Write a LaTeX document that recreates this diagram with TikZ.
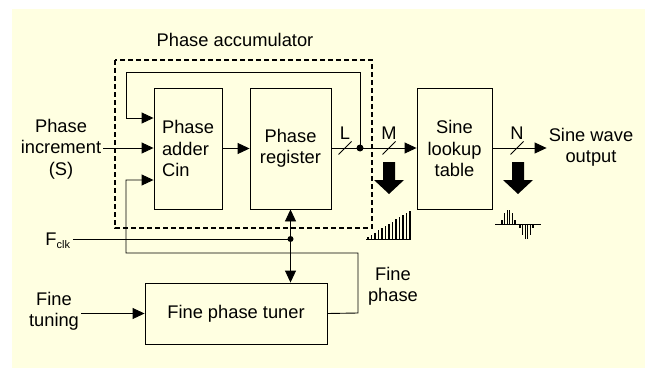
\documentclass[tikz,border=0pt]{standalone}
\usepackage{fontspec}
\setmainfont{Liberation Sans}
\usetikzlibrary{arrows.meta}

\definecolor{paper}{RGB}{255,255,225}

\newcommand*{\wirey}{148}
\newcommand*{\clky}{239}

\tikzset{
	blk/.style={draw,line width=0.9pt,minimum height=121pt},
	lbl/.style={align=center,inner sep=2pt},
	wire/.style={line width=0.9pt},
	sig/.style={wire,-{Triangle[length=12pt,width=11pt]}},
	bus/.style={line width=0.9pt}
}

\begin{document}
\begin{tikzpicture}[x=1pt,y=-1pt,font=\fontsize{18.3pt}{21.3pt}\selectfont]

	\useasboundingbox (0,0) rectangle (645,369);
	\fill[paper] (12,9) rectangle (645,368);

	% blocks
	\node[blk,minimum width=68pt,align=left] (adder) at (188,148.5) {Phase\\adder\\Cin};
	\node[blk,minimum width=81pt,align=center] (reg) at (290.5,148.5) {Phase\\register};
	\node[blk,minimum width=75pt,align=center] (lut) at (454.5,148.5) {Sine\\lookup\\table};
	\node[draw,line width=0.9pt,minimum width=182pt,minimum height=61pt] (tuner) at (236,313.5) {Fine phase tuner};

	% phase accumulator
	\draw[line width=1.6pt,dash pattern=on 5pt off 3pt] (115,60) rectangle (372,228);
	\node (acc) at (235,40) {Phase accumulator};

	% texts
	\node[lbl] (inc) at (61,149) {Phase\\increment\\(S)};
	\node[lbl] (out) at (591,147) {Sine wave\\output};
	\node[lbl] (fclk) at (58,241) {F\textsubscript{\fontsize{11pt}{12pt}\selectfont clk}};
	\node[lbl] (ftune) at (54,311) {Fine\\tuning};
	\node[lbl] (fphase) at (393,286) {Fine\\phase};
	\node (wl) at (345,133) {L};
	\node (wm) at (389,133) {M};
	\node (wn) at (517,133) {N};

	% wires
	\coordinate (tap) at (360,\wirey);
	\coordinate (fbtop) at (126,72);
	\coordinate (fbin) at (126,118);
	\coordinate (cinbot) at (126,253);
	\coordinate (cinin) at (126,180);
	\coordinate (fpright) at (358,313);
	\coordinate (clk) at (reg.south |- 0,\clky);

	\draw[sig] (inc.east |- 0,\wirey) -- (adder.west |- 0,\wirey);
	\draw[sig] (adder.east) -- (reg.west);
	\draw[sig] (reg.east |- tap) -- (lut.west |- tap);
	\draw[sig] (lut.east |- tap) -- (out.west |- tap);
	\draw[sig] (tap) -- (tap |- fbtop) -- (fbtop) -- (fbin) -- (adder.west |- fbin);
	\draw[sig] (tuner.east) -- (fpright) -- (fpright |- cinbot) -- (cinbot) -- (cinin) -- (adder.west |- cinin);
	\draw[wire] (fclk.east |- clk) -- (clk);
	\draw[sig] (clk) -- (reg.south);
	\draw[sig] (clk) -- (reg.south |- tuner.north);
	\draw[sig] (ftune.east |- tuner.west) -- (tuner.west);
	\fill (tap) circle (3.5);
	\fill (clk) circle (3);

	% bus widths
	\foreach \xa in {345,389,517}
		\draw[bus] (\xa-6.5,\wirey+6.5) -- (\xa+6.5,\wirey-6.5);

	% big arrows
	\foreach \xa in {389,518}
		\fill (\xa-6,162) -- (\xa-6,180) -- (\xa-15,180) -- (\xa,194) -- (\xa+15,180) -- (\xa+6,180) -- (\xa+6,162) -- cycle;

	% ramp
	\draw[line width=0.8pt] (366,239) -- (411,239);
	\foreach \i in {0,...,12}
		\draw[line width=1.1pt] (368+3.5*\i,239) -- ++(0,{-(2+2.2*\i)});

	% sine
	\draw[line width=0.8pt] (495,224) -- (541,224);
	\foreach \i in {0,...,5} {
		\draw[line width=1.1pt] (502+2.6*\i,224) -- ++(0,{-15*sin(180*(\i+0.5)/6)});
		\draw[line width=1.1pt] (520+2.6*\i,224) -- ++(0,{16*sin(180*(\i+0.5)/6)});
	}

\end{tikzpicture}
\end{document}
